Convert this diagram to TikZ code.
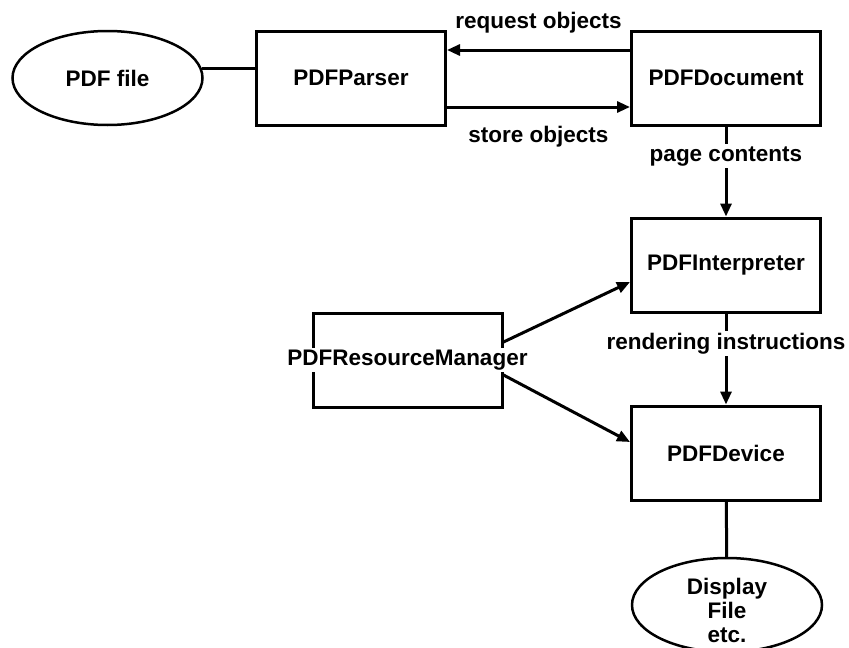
\documentclass[tikz,border=0pt]{standalone}
\usepackage{fontspec}
\setmainfont{Liberation Sans}
\usetikzlibrary{arrows.meta,shapes.geometric}

\begin{document}
\begin{tikzpicture}[x=1pt,y=-1pt]
  % some styles
  \tikzset{
    every node/.style={font=\bfseries\fontsize{22.5}{24}\selectfont},
    box/.style={
      rectangle,
      minimum width=189pt,
      minimum height=94pt,
      inner sep=0pt,
      line width=3pt,
      draw
    },
    blob/.style={
      ellipse,
      minimum width=190pt,
      minimum height=94pt,
      inner sep=0pt,
      line width=2.5pt,
      align=center,
      draw
    },
    link/.style={line width=3pt},
    flow/.style={line width=3pt,-{Triangle[length=13pt,width=11pt]}},
    tag/.style={fill=white,inner sep=2pt}
  }

\useasboundingbox (0,0) rectangle (849,648);

\node[blob] (file) at (107.5,78) {PDF file};
\node[box] (parser) at (351,78) {PDFParser};
\node[box] (doc) at (726,78) {PDFDocument};
\node[box] (interp) at (726,265) {PDFInterpreter};
\node[box,label={[tag]center:PDFResourceManager}] (rm) at (407.5,360) {};
\node[box] (device) at (726,453) {PDFDevice};
\node[blob,text height=76pt,inner ysep=-6pt] (out) at (727,605) {Display\\File\\etc.};

\draw[link] (file.6) -- (file.6 -| parser.west);
\draw[flow] ([yshift=28pt]doc.west) -- ([yshift=28pt]parser.east)
  node[midway,yshift=27pt] {request objects};
\draw[flow] ([yshift=-29pt]parser.east) -- ([yshift=-29pt]doc.west)
  node[midway,yshift=-30pt] {store objects};
\draw[flow] (doc) -- (interp) node[tag,pos=0.33] {page contents};
\draw[flow] (interp) -- (device) node[tag,pos=0.33] {rendering instructions};
\draw[flow] ([yshift=18pt]rm.east) -- ([yshift=-17pt]interp.west);
\draw[flow] ([yshift=-15pt]rm.east) -- ([yshift=11pt]device.west);
\draw[link] (device) -- (out);

\end{tikzpicture}
\end{document}
